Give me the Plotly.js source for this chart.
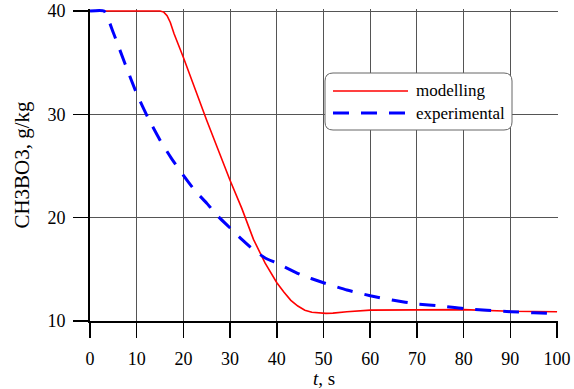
<!DOCTYPE html>
<html>
<head>
<meta charset="utf-8">
<script src="https://cdn.plot.ly/plotly-3.0.1.min.js"></script>
<style>html,body{margin:0;padding:0;background:#fff;}#chart{width:574px;height:389px;}</style>
</head>
<body>
<div id="chart"></div>
<script>
// modelling series
var modelT = [0, 15, 15.8, 16.5, 17.2, 18, 20, 22.5, 25, 27.5, 30, 32.5, 35, 37.5, 40, 41.5, 43, 44.5, 46, 47.5, 49, 50.5, 52, 55, 60, 70, 80, 90, 100];
var modelC = [40, 40, 39.9, 39.55, 38.9, 37.8, 35.5, 32.4, 29.4, 26.5, 23.6, 20.9, 17.9, 15.6, 13.7, 12.8, 12.0, 11.45, 11.05, 10.85, 10.76, 10.74, 10.76, 10.9, 11.05, 11.1, 11.1, 10.95, 10.9];
// experimental series
var expT = [0, 3, 5, 7.5, 10, 12.5, 15, 17.5, 20, 22.5, 25, 27.5, 30, 32.5, 35, 37.5, 40, 45, 50, 55, 60, 65, 70, 75, 80, 85, 90, 95, 100];
var expC = [40, 40, 37.9, 34.9, 32.0, 29.6, 27.5, 25.7, 24.1, 22.6, 21.4, 20.1, 19.0, 17.9, 16.9, 16.1, 15.6, 14.5, 13.7, 13.0, 12.45, 12.0, 11.65, 11.45, 11.2, 11.05, 10.9, 10.8, 10.7];
var xTicks = [0, 10, 20, 30, 40, 50, 60, 70, 80, 90, 100];
var yTicks = [10, 20, 30, 40];
var seriesNames = ['modelling', 'experimental'];
var seriesColors = ['#ff0000', '#0000ff'];

var serif = 'Liberation Serif, Times New Roman, serif';

var traces = [
  {x: modelT, y: modelC, mode: 'lines', name: seriesNames[0], showlegend: false,
   line: {color: seriesColors[0], width: 1.6}},
  {x: expT, y: expC, mode: 'lines', name: seriesNames[1], showlegend: false,
   line: {color: seriesColors[1], width: 3, dash: '16px,12px', shape: 'spline', smoothing: 0.5}}
];

// plot area: x 90..557 px, y 11..321 px
var M = {l: 90, r: 16, t: 9, b: 68};
var W = 574 - M.l - M.r, H = 389 - M.t - M.b;
function px2x(p){ return (p - M.l) / W; }
function py2y(p){ return (389 - M.b - p) / H; }
var L = 325, R = 512, T = 73, B = 130, r = 8;
var path = 'M' + px2x(L + r) + ',' + py2y(T) +
  ' L' + px2x(R - r) + ',' + py2y(T) +
  ' Q' + px2x(R) + ',' + py2y(T) + ' ' + px2x(R) + ',' + py2y(T + r) +
  ' L' + px2x(R) + ',' + py2y(B - r) +
  ' Q' + px2x(R) + ',' + py2y(B) + ' ' + px2x(R - r) + ',' + py2y(B) +
  ' L' + px2x(L + r) + ',' + py2y(B) +
  ' Q' + px2x(L) + ',' + py2y(B) + ' ' + px2x(L) + ',' + py2y(B - r) +
  ' L' + px2x(L) + ',' + py2y(T + r) +
  ' Q' + px2x(L) + ',' + py2y(T) + ' ' + px2x(L + r) + ',' + py2y(T) + ' Z';

var legRows = [91, 113];
var shapes = [
  {type: 'path', xref: 'paper', yref: 'paper', path: path,
   fillcolor: '#ffffff', line: {color: '#666', width: 1}, layer: 'above'},
  {type: 'line', xref: 'paper', yref: 'paper', x0: px2x(333), x1: px2x(408),
   y0: py2y(legRows[0]), y1: py2y(legRows[0]), line: {color: seriesColors[0], width: 1.6}, layer: 'above'},
  {type: 'line', xref: 'paper', yref: 'paper', x0: px2x(333), x1: px2x(408),
   y0: py2y(legRows[1]), y1: py2y(legRows[1]), line: {color: seriesColors[1], width: 3, dash: '16px,12px'}, layer: 'above'}
];
var annotations = seriesNames.map(function(n, i){
  return {xref: 'paper', yref: 'paper', x: px2x(414), y: py2y(legRows[i]),
          xanchor: 'left', yanchor: 'middle', text: n, showarrow: false,
          font: {family: serif, size: 17, color: '#000'}};
});

var layout = {
  width: 574, height: 389,
  margin: M,
  paper_bgcolor: '#ffffff', plot_bgcolor: '#ffffff',
  font: {family: serif, size: 18, color: '#000'},
  showlegend: false,
  xaxis: {
    range: [0, 100.2], tickvals: xTicks, ticktext: xTicks.map(String),
    showgrid: true, gridcolor: '#555', gridwidth: 1,
    showline: true, linecolor: '#000', linewidth: 2,
    ticks: 'outside', ticklen: 15, tickwidth: 1.5, tickcolor: '#000',
    ticklabelstandoff: 5, zeroline: false,
    tickfont: {family: serif, size: 18},
    title: {text: '<i>t</i>, s', font: {family: serif, size: 19}, standoff: 2}
  },
  yaxis: {
    range: [10, 40.2], tickvals: yTicks, ticktext: yTicks.map(String),
    showgrid: true, gridcolor: '#555', gridwidth: 1,
    showline: true, linecolor: '#000', linewidth: 2,
    ticks: 'outside', ticklen: 15, tickwidth: 1.5, tickcolor: '#000',
    ticklabelstandoff: 4, zeroline: false,
    tickfont: {family: serif, size: 18},
    title: {text: 'CH3BO3, g/kg', font: {family: serif, size: 21}, standoff: 12}
  },
  shapes: shapes,
  annotations: annotations
};

Plotly.newPlot('chart', traces, layout, {staticPlot: true, displayModeBar: false});
</script>
</body>
</html>
